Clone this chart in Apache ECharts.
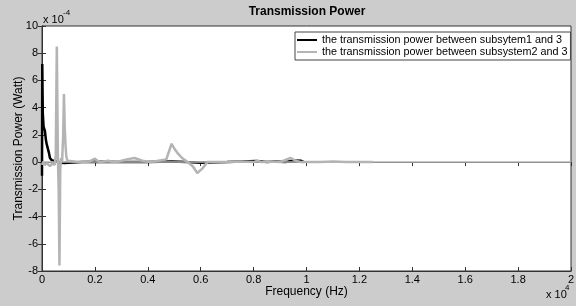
<!DOCTYPE html>
<html>
<head>
    <meta charset="utf-8">
    <title>Transmission Power</title>
    <script src="https://cdn.jsdelivr.net/npm/echarts@6/dist/echarts.min.js"></script>
    <style>
        body { margin: 0; background: #cccccc; }
        #main { width: 576px; height: 306px; }
    </style>
</head>
<body>
    <div id="main"></div>
    <script type="text/javascript">
        // frequency in units of 1e4 Hz, power in units of 1e-4 W
        var freq1 = [0, 0.001, 0.003, 0.006, 0.011, 0.015, 0.018, 0.022, 0.026, 0.03, 0.036, 0.043, 0.056, 0.07, 0.085, 0.1,
                     0.15, 0.2, 0.3, 0.4, 0.49, 0.55, 0.6, 0.7, 0.81, 0.85, 0.88, 0.92, 0.95, 0.98, 0.99];
        var power1 = [-1.0, 7.2, 3.6, 2.6, 2.3, 1.6, 1.3, 1.2, 0.7, 0.3, 0.15, 0.1, 0.03, -0.05, -0.07, -0.05,
                      0, 0.02, 0, 0, 0.05, 0, -0.04, 0, 0.08, 0, 0.05, 0, 0.12, 0.1, 0];

        var freq2 = [0, 0.004, 0.01, 0.02, 0.03, 0.04, 0.048, 0.052, 0.056, 0.06, 0.063, 0.066, 0.069, 0.072, 0.076,
                     0.08, 0.083, 0.086, 0.089, 0.092, 0.096, 0.1, 0.14, 0.18, 0.2, 0.21, 0.22, 0.25, 0.27, 0.29,
                     0.32, 0.35, 0.38, 0.41, 0.44, 0.47, 0.49, 0.5, 0.515, 0.53, 0.55, 0.57, 0.587, 0.605, 0.625,
                     0.65, 0.7, 0.75, 0.8, 0.815, 0.83, 0.86, 0.9, 0.925, 0.94, 0.96, 0.98, 1.05, 1.1, 1.15, 1.2, 1.25];
        var power2 = [-0.2, 0.0, -0.2, -0.1, -0.3, -0.1, -0.2, 0.5, 8.5, 0.5, -2.0, -7.6, -0.5, 0.3, 0.0,
                      2.0, 5.0, 2.5, 1.2, 0.4, 0.1, 0.0, 0.0, 0.05, 0.25, 0.1, 0.0, 0.1, 0.0, 0.05,
                      0.2, 0.3, 0.1, 0.0, 0.1, 0.2, 1.35, 1.0, 0.6, 0.3, 0.0, -0.3, -0.8, -0.5, 0.0,
                      0.0, 0.0, 0.05, 0.0, 0.1, 0.0, 0.05, 0.0, 0.2, 0.3, 0.1, 0.0, 0.0, 0.05, 0.0, 0.0, 0.0];

        var xTicks = { min: 0, max: 2, interval: 0.2 };
        var yTicks = { min: -8, max: 10, interval: 2 };

        var seriesNames = ['the transmission power between subsytem1 and 3',
                           'the transmission power between subsystem2 and 3'];

        function pairs(xs, ys) {
            return xs.map(function (x, i) { return [x, ys[i]]; });
        }

        var font = 'Liberation Sans, Arial, sans-serif';
        var myChart = echarts.init(document.getElementById('main'));

        var option = {
            animation: false,
            backgroundColor: '#cccccc',
            textStyle: { fontFamily: font },
            grid: {
                left: 42, right: 5, top: 26, bottom: 35,
                outerBoundsMode: 'none', containLabel: false,
                show: true, backgroundColor: '#ffffff', borderColor: '#333', borderWidth: 1
            },
            legend: {
                orient: 'vertical',
                left: 295, top: 32,
                data: seriesNames,
                icon: 'rect',
                itemWidth: 20, itemHeight: 2,
                itemGap: 0,
                padding: [2, 3, 2, 2],
                backgroundColor: '#ffffff',
                borderColor: '#444', borderWidth: 1,
                textStyle: { fontSize: 10.8, color: '#000', lineHeight: 12, fontFamily: font }
            },
            xAxis: [{
                type: 'value', min: xTicks.min, max: xTicks.max, interval: xTicks.interval,
                name: 'Frequency (Hz)', nameLocation: 'middle', nameGap: 15, nameMoveOverlap: false,
                nameTextStyle: { fontSize: 12, color: '#000', fontFamily: font },
                axisLine: { show: true, onZero: false, lineStyle: { color: '#333' } },
                axisTick: { inside: true, length: 4, lineStyle: { color: '#333' } },
                axisLabel: { fontSize: 11, color: '#000', margin: 3, fontFamily: font },
                splitLine: { show: false }
            }, {
                type: 'value', position: 'top', min: xTicks.min, max: xTicks.max, interval: xTicks.interval,
                axisLine: { show: true, lineStyle: { color: '#333' } },
                axisTick: { inside: true, length: 4, lineStyle: { color: '#333' } },
                axisLabel: { show: false },
                splitLine: { show: false }
            }],
            yAxis: [{
                type: 'value', min: yTicks.min, max: yTicks.max, interval: yTicks.interval,
                name: 'Transmission Power (Watt)', nameLocation: 'middle', nameGap: 17, nameMoveOverlap: false,
                nameTextStyle: { fontSize: 12, color: '#000', fontFamily: font },
                axisLine: { show: true, onZero: false, lineStyle: { color: '#333' } },
                axisTick: { inside: true, length: 4, lineStyle: { color: '#333' } },
                axisLabel: { fontSize: 11, color: '#000', margin: 4, fontFamily: font },
                splitLine: { show: false }
            }, {
                type: 'value', position: 'right', min: yTicks.min, max: yTicks.max, interval: yTicks.interval,
                axisLine: { show: true, lineStyle: { color: '#333' } },
                axisTick: { inside: true, length: 4, lineStyle: { color: '#333' } },
                axisLabel: { show: false },
                splitLine: { show: false }
            }],
            series: [{
                name: seriesNames[0],
                type: 'line',
                showSymbol: false,
                color: '#000000',
                lineStyle: { width: 2.5, color: '#000000' },
                data: pairs(freq1, power1),
                markLine: {
                    silent: true, symbol: 'none', label: { show: false },
                    lineStyle: { color: '#b4b4b4', width: 1.5, type: 'solid' },
                    data: [{ yAxis: 0 }]
                },
                z: 2
            }, {
                name: seriesNames[1],
                type: 'line',
                showSymbol: false,
                color: '#b4b4b4',
                lineStyle: { width: 2.5, color: '#b4b4b4' },
                data: pairs(freq2, power2),
                z: 3
            }],
            graphic: [
                { type: 'text', style: { text: 'Transmission Power', x: 307, y: 12, align: 'center', verticalAlign: 'middle',
                    font: 'bold 12px ' + font, fill: '#000' } },
                { type: 'text', style: { text: 'x 10', x: 43, y: 20, verticalAlign: 'middle', font: '11px ' + font, fill: '#000' } },
                { type: 'text', style: { text: '-4', x: 63, y: 13, verticalAlign: 'middle', font: '8px ' + font, fill: '#000' } },
                { type: 'text', style: { text: 'x 10', x: 546, y: 295, verticalAlign: 'middle', font: '11px ' + font, fill: '#000' } },
                { type: 'text', style: { text: '4', x: 565, y: 288, verticalAlign: 'middle', font: '8px ' + font, fill: '#000' } }
            ]
        };

        myChart.setOption(option);
    </script>
</body>
</html>
